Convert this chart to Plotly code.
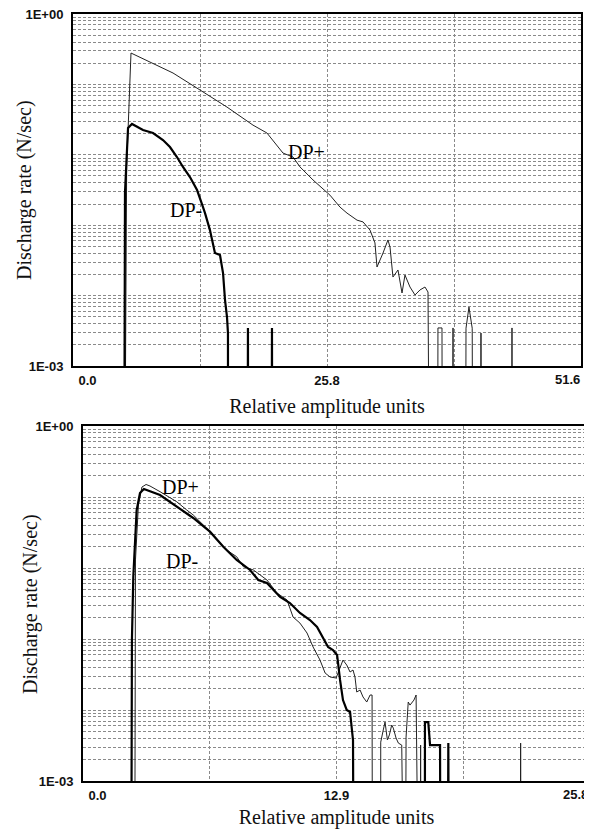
import numpy as np
import plotly.graph_objects as go

# ---------------- data ----------------
# Top panel: x in relative amplitude units (0 - 51.6), y in N/sec (0 = no discharges)
top_plus_x = [5.20, 5.45, 5.89, 7.82, 10.16, 12.90, 15.64, 18.28, 19.70, 21.33, 22.35, 23.06,
              24.38, 26.10, 27.12, 27.83, 28.85, 29.46, 30.17, 30.67, 30.88, 31.49, 31.99, 32.20,
              32.50, 33.01, 33.42, 33.72, 34.23, 34.74, 35.25, 35.75, 36.06, 36.26,
              37.02, 37.07, 37.48, 37.53, 38.55, 38.60, 38.65,
              39.85, 39.92, 40.22, 40.55, 40.63, 41.39, 41.44, 41.49, 44.54, 44.59, 44.64]
top_plus_y = [0, 0.05, 0.465, 0.390, 0.314, 0.225, 0.161, 0.113, 0.0968, 0.0653, 0.0604, 0.0497,
              0.0385, 0.0286, 0.0226, 0.0201, 0.0175, 0.0169, 0.0144, 0.0112, 0.00698, 0.00918, 0.01186, 0.01033,
              0.00573, 0.00658, 0.00419, 0.00596, 0.00471, 0.00403, 0.00445, 0.00471, 0.00427, 0,
              0, 0.00211, 0.00211, 0, 0, 0.00211, 0,
              0, 0.0021, 0.00318, 0.0021, 0, 0, 0.00191, 0, 0, 0.00211, 0]

top_minus_x = [5.18, 5.28, 5.59, 5.99, 7.11, 8.13, 9.14, 9.85, 10.56, 11.17, 11.88, 12.60, 13.10,
               13.41, 13.91, 14.42, 14.93, 15.24, 15.44, 15.64, 15.74, 15.76,
               17.72, 17.77, 17.82, 20.16, 20.21, 20.26]
top_minus_y = [0, 0.03, 0.1067, 0.1155, 0.1026, 0.0968, 0.0844, 0.0735, 0.0604, 0.0497, 0.0408, 0.0316, 0.024,
               0.0201, 0.0144, 0.00918, 0.00883, 0.0062, 0.00365, 0.00262, 0.00191, 0,
               0, 0.00211, 0, 0, 0.00211, 0]

# Bottom panel: x in relative amplitude units (0 - 25.8)
bot_plus_x = [2.62, 2.65, 2.67, 2.82, 3.00, 3.21, 3.41, 3.92, 4.77, 5.28, 5.61, 6.46, 7.31, 7.82,
              8.16, 8.67, 9.36, 9.87, 10.38, 10.69, 11.04, 11.40, 11.71, 12.06, 12.32, 12.57, 12.88,
              13.23, 13.42, 13.59, 13.74, 13.84, 13.93, 14.10, 14.25, 14.44, 14.61, 14.71, 14.74,
              15.15, 15.15, 15.28, 15.37, 15.49, 15.59, 15.71, 15.79, 15.93, 16.05, 16.22, 16.27,
              16.39, 16.44, 16.55, 16.64, 16.84, 16.95, 17.01,
              17.13, 17.18, 17.23, 22.22, 22.27, 22.32]
bot_plus_y = [0, 0.0156, 0.0738, 0.215, 0.305, 0.3205, 0.311, 0.2786, 0.229, 0.195, 0.177, 0.128, 0.0895, 0.0786,
              0.0647, 0.0607, 0.0500, 0.0388, 0.0339, 0.0243, 0.0216, 0.0178, 0.01356, 0.01052, 0.00818, 0.00757, 0.00742,
              0.01052, 0.00955, 0.00834, 0.00867, 0.00757, 0.00565, 0.00587, 0.00513, 0.00465, 0.00533, 0.00533, 0,
              0, 0.00213, 0.00270, 0.00315, 0.00222, 0.00245, 0.00297, 0.00280, 0.00231, 0.00209, 0.00201, 0,
              0, 0.00235, 0.00465, 0.00438, 0.00483, 0.00533, 0,
              0, 0.00201, 0, 0, 0.00209, 0]

bot_minus_x = [2.44, 2.49, 2.56, 2.73, 2.90, 3.10, 3.92, 4.77, 5.61, 6.46, 7.14, 7.82, 8.50, 8.92,
               9.36, 10.03, 10.53, 11.04, 11.55, 11.91, 12.21, 12.47, 12.72, 12.93, 13.08, 13.23,
               13.42, 13.59, 13.67, 13.74, 13.79,
               17.40, 17.40, 17.57, 17.66, 18.17, 18.20, 18.54, 18.59, 18.64]
bot_minus_y = [0, 0.0156, 0.0532, 0.195, 0.2715, 0.2936, 0.261, 0.208, 0.167, 0.128, 0.0955, 0.0738, 0.0607, 0.0500,
               0.0471, 0.0359, 0.0319, 0.0263, 0.0229, 0.0200, 0.01647, 0.01356, 0.01279, 0.01161, 0.00714, 0.00483,
               0.00398, 0.00383, 0.00286, 0.00222, 0,
               0, 0.00315, 0.00315, 0.00201, 0.00201, 0, 0, 0.00209, 0]

top_x_ticks = [0.0, 25.8, 51.6]
top_x_labels = ["0.0", "25.8", "51.6"]
bot_x_ticks = [0.0, 12.9, 25.8]
bot_x_labels = ["0.0", "12.9", "25.8"]
y_ticks = [1.0, 0.001]
y_labels = ["1E+00", "1E-03"]

# ---------------- helpers ----------------
FLOOR = 1e-5  # zero-count bins drawn below the log axis floor


def for_log(vals):
    v = np.asarray(vals, dtype=float)
    return np.where(v > 0, v, FLOOR)


# horizontal grid of the original printout: 5 log cycles over 3 decades
cyc = 0.6
grid_y = sorted({10 ** (-cyc * k - cyc + cyc * np.log10(m)) for k in range(5) for m in range(1, 10)})

NB = "\u00a0"
TICKFONT = dict(family="Liberation Sans, Arial, sans-serif", size=13, color="#111", weight="bold")
TITLEFONT = dict(family="Liberation Serif, Times New Roman, serif", size=20, color="#111")
GRIDC = "#8a8a8a"

fig = go.Figure()
fig.add_trace(go.Scatter(x=top_plus_x, y=for_log(top_plus_y), mode="lines",
                         line=dict(color="#222", width=1), xaxis="x", yaxis="y", name="DP+"))
fig.add_trace(go.Scatter(x=top_minus_x, y=for_log(top_minus_y), mode="lines",
                         line=dict(color="#000", width=2.2), xaxis="x", yaxis="y", name="DP-"))
fig.add_trace(go.Scatter(x=bot_plus_x, y=for_log(bot_plus_y), mode="lines",
                         line=dict(color="#222", width=1), xaxis="x2", yaxis="y2", name="DP+"))
fig.add_trace(go.Scatter(x=bot_minus_x, y=for_log(bot_minus_y), mode="lines",
                         line=dict(color="#000", width=2.2), xaxis="x2", yaxis="y2", name="DP-"))

# page body has an 8px margin: the figure fills the rest of the 592x829 window
OFF = 8
W, H = 592 - OFF, 829 - OFF


def px_x(p):
    return (p - OFF) / W


def px_y(p):
    return 1 - (p - OFF) / H


def xaxis(dom, rng, ticks, labels, minor_dt, anchor):
    # first label padded to sit just inside the frame; last label drawn as an annotation
    txt = [NB * 8 + labels[0]] + list(labels[1:-1]) + [""]
    return dict(domain=dom, range=rng, tickmode="array", tickvals=ticks, ticktext=txt,
                showgrid=True, gridcolor=GRIDC, griddash="3px,2px", gridwidth=1,
                minor=dict(dtick=minor_dt, tick0=0, showgrid=True, gridcolor=GRIDC,
                           griddash="3px,2px", gridwidth=1, ticks=""),
                showline=True, linewidth=2, linecolor="black", mirror=True, ticks="",
                zeroline=False, tickfont=TICKFONT, ticklabelstandoff=1, automargin=False,
                ticklabeloverflow="allow", anchor=anchor,
                title=dict(text="Relative amplitude units", font=TITLEFONT, standoff=12))


def yaxis(dom, anchor):
    return dict(domain=dom, type="log", range=[-3, 0], tickmode="array", tickvals=y_ticks,
                ticktext=y_labels, showgrid=False,
                minor=dict(tickmode="array", tickvals=grid_y, showgrid=True, gridcolor=GRIDC,
                           griddash="3px,2px", gridwidth=1, ticks=""),
                showline=True, linewidth=2, linecolor="black", mirror=True, ticks="",
                zeroline=False, tickfont=TICKFONT, ticklabelstandoff=5, anchor=anchor,
                automargin=False, ticklabeloverflow="allow")


fig.update_layout(
    width=W, height=H, margin=dict(l=0, r=0, t=0, b=0, autoexpand=False),
    paper_bgcolor="white", plot_bgcolor="white", showlegend=False,
    xaxis=xaxis([px_x(73), px_x(581)], [0, 51.6], top_x_ticks, top_x_labels, 12.9, "y"),
    yaxis=yaxis([px_y(366), px_y(14)], "x"),
    xaxis2=xaxis([px_x(83), px_x(590)], [0, 25.8], bot_x_ticks, bot_x_labels, 6.45, "y2"),
    yaxis2=yaxis([px_y(781), px_y(426)], "x2"),
)

# right-end x tick labels, kept inside the window
fig.add_annotation(x=top_x_ticks[-1], y=0, xref="x", yref="y domain", text=top_x_labels[-1],
                   showarrow=False, font=TICKFONT, xanchor="right", yanchor="top", xshift=1, yshift=-4)
fig.add_annotation(x=bot_x_ticks[-1], y=0, xref="x2", yref="y2 domain", text=bot_x_labels[-1],
                   showarrow=False, font=TICKFONT, xanchor="right", yanchor="top", xshift=0, yshift=-4)

# y-axis titles
for cx, cy in [(25, 190), (30, 604)]:
    fig.add_annotation(x=px_x(cx), y=px_y(cy), xref="paper", yref="paper", text="Discharge rate (N/sec)",
                       textangle=-90, showarrow=False, font=TITLEFONT, xanchor="center", yanchor="middle")

LBL = dict(family="Liberation Serif, Times New Roman, serif", size=20, color="#000")
fig.add_annotation(x=23.67, y=np.log10(0.0667), xref="x", yref="y", text="DP+", showarrow=False, font=LBL)
fig.add_annotation(x=11.48, y=np.log10(0.02136), xref="x", yref="y", text="DP-", showarrow=False, font=LBL)
fig.add_annotation(x=4.96, y=np.log10(0.308), xref="x2", yref="y2", text="DP+", showarrow=False, font=LBL)
fig.add_annotation(x=5.06, y=np.log10(0.0730), xref="x2", yref="y2", text="DP-", showarrow=False, font=LBL)

fig.write_html("out.html")
